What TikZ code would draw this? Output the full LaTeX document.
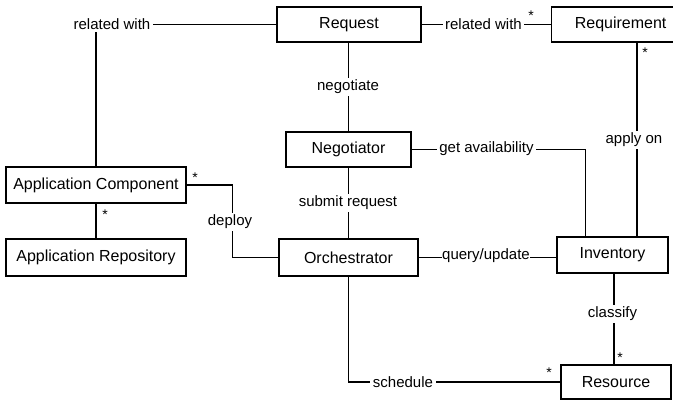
\documentclass[tikz,border=0pt]{standalone}
\usepackage{fontspec}
\setmainfont{Liberation Sans}
\begin{document}
\begin{tikzpicture}[x=1pt,y=-1pt,
  box/.style={draw,line width=1.2pt,fill=white,inner sep=0pt,minimum height=35pt,font=\fontsize{16}{19}\selectfont},
  lbl/.style={fill=white,inner sep=2.5pt,font=\fontsize{15}{18}\selectfont},
  star/.style={inner sep=0pt,font=\fontsize{14}{16}\selectfont},
  conn/.style={line width=1.2pt}]
\useasboundingbox (0,0) rectangle (673,400);
% boxes
\node[box,minimum width=144pt] (req) at (349,24.5) {Request};
\node[box,minimum width=172pt,anchor=west] (reqm) at (551,24.5) {\hspace*{-34pt}Requirement};
\node[box,minimum width=125pt] (neg) at (348.5,149.5) {Negotiator};
\node[box,minimum width=180pt,minimum height=36pt] (appc) at (96,185) {Application Component};
\node[box,minimum width=180pt,minimum height=37pt] (apprepo) at (96,257.5) {Application Repository};
\node[box,minimum width=139pt,minimum height=37pt] (orch) at (348.5,257.5) {Orchestrator};
\node[box,minimum width=111pt,minimum height=36pt] (inv) at (612.5,255) {Inventory};
\node[box,minimum width=110pt,minimum height=34pt] (res) at (616,382) {Resource};
\coordinate (colA) at (637,0);
% connectors
\draw[conn] (req.west) -| (appc.north);
\draw[conn] (req.east) -- (reqm.west);
\draw[conn] (req.south -| neg.north) -- (neg.north);
\draw[conn] (neg.east) -| ([xshift=29pt]inv.north west);
\draw[conn] (reqm.south -| colA) -- (inv.north -| colA);
\draw[conn] (neg.south) -- (orch.north);
\draw[conn] (appc.east) -- ++(46,0) |- (orch.west);
\draw[conn] (appc.south) -- (apprepo.north);
\draw[conn] (orch.east) -- (inv.west |- orch.east);
\draw[conn] (orch.south) |- (res.west);
\draw[conn] ([xshift=1.5pt]inv.south) -- ([xshift=1.5pt]inv.south |- res.north);
% labels
\node[lbl] (l1) at (112,24) {related with};
\node[lbl] (l2) at (483.5,24) {related with};
\node[lbl] (l3) at (348,87) {negotiate};
\node[lbl] (l4) at (486.5,149) {get availability};
\node[lbl] (l5) at (634,140) {apply on};
\node[lbl] (l6) at (348,203) {submit request};
\node[lbl] (l7) at (230,222) {deploy};
\node[lbl,inner sep=0pt] (l8) at (486,256) {query/update};
\node[lbl] (l9) at (403,382) {schedule};
\node[lbl] (l10) at (612.5,314) {classify};
% multiplicities
\node[star] (s1) at (531,16) {*};
\node[star] (s2) at (645,53) {*};
\node[star] (s3) at (195,178) {*};
\node[star] (s4) at (105,215) {*};
\node[star] (s5) at (549,373) {*};
\node[star] (s6) at (620,358) {*};
\end{tikzpicture}
\end{document}
